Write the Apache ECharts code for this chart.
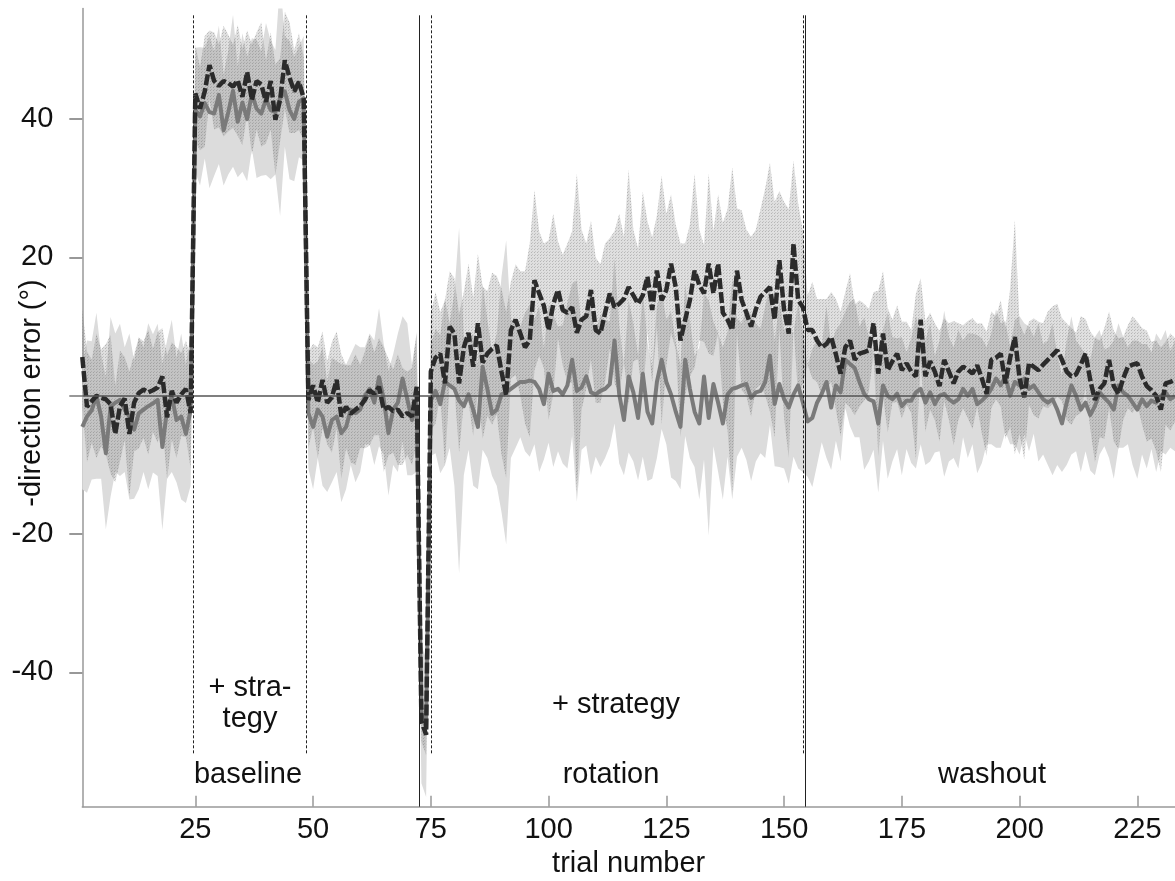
<!DOCTYPE html>
<html><head><meta charset="utf-8">
<script src="https://cdn.jsdelivr.net/npm/echarts@6/dist/echarts.min.js"></script>
<style>html,body{margin:0;padding:0;background:#fff}#c{width:1175px;height:881px}</style>
</head><body><div id="c"></div>
<script>
// ---- data ----
const xTicks = [25, 50, 75, 100, 125, 150, 175, 200, 225];
const yTicks = [-40, -20, 0, 20, 40];
const yLabels = [-40, -20, 20, 40];
const phaseSolid = [72.5, 154.4];
const phaseDashed = [24.5, 48.5, 75, 154.1];

// dashed (dark) group mean, trials 1..233
const dashMean = [
 5.6,-1.6,-0.8,0.0,-0.3,-0.5,-1.2,-5.5,-1.5,-0.4,-5.5,-1.0,0.4,0.9,0.5,0.8,1.2,2.8,-3.1,0.7,-1.0,0.2,1.0,-2.5,
 43.7,41.5,44.0,47.8,45.5,44.8,45.5,45.2,44.7,45.6,43.2,46.8,42.8,45.5,45.0,42.5,45.5,39.9,42.8,48.5,46.0,44.0,45.4,43.0,
 -0.6,1.5,-1.0,2.3,-1.0,-0.2,2.3,-3.0,-1.6,-2.6,-2.0,-1.5,-0.6,0.8,0.3,1.3,-2.0,-1.6,-2.2,-2.0,-3.0,-2.5,-3.0,1.3,
 -47.0,-49.0,
 3.5,5.5,6.1,1.8,10.0,9.0,1.8,7.0,9.1,4.2,
 10.5,4.8,6.1,6.8,7.3,3.5,0.1,9.5,11.0,9.0,
 7.0,8.0,16.7,14.8,13.0,9.5,13.3,15.3,12.4,12.0,
 12.8,9.1,11.0,11.5,15.3,9.5,9.0,12.0,14.8,12.8,
 13.3,14.0,15.7,14.5,13.3,14.5,17.2,12.4,18.1,13.8,
 15.3,19.1,15.7,8.0,11.0,13.8,18.1,16.0,14.8,19.1,
 14.8,19.1,12.0,11.0,9.5,18.1,13.8,12.0,10.0,12.5,
 14.3,15.0,15.7,11.0,19.6,12.4,9.0,22.0,13.8,12.8,
 9.5,9.5,8.0,7.0,7.5,8.5,6.0,3.2,7.0,8.0,
 5.2,6.1,6.3,6.6,10.5,3.2,9.0,3.7,5.0,6.1,
 3.7,4.7,3.5,2.8,11.0,2.8,5.0,3.5,1.4,5.2,
 3.5,1.8,3.5,4.2,3.8,3.2,4.4,2.5,0.3,5.2,
 5.5,6.1,1.8,5.5,8.5,2.5,-0.2,4.7,4.2,3.7,
 4.5,5.2,5.9,6.6,5.2,3.5,2.8,3.1,4.5,6.1,
 2.3,-0.6,1.0,1.8,5.2,1.4,0.3,2.5,4.2,4.5,
 4.7,2.8,1.4,0.8,0.0,-2.0,1.8,2.0,2.3
];
// grey (solid) group mean, trials 1..233
const greyMean = [
 -4.5,-3.0,-2.1,0.0,-3.0,-8.3,-1.6,-1.0,-0.6,-2.0,-3.0,-4.9,-2.5,-2.0,-1.5,-1.1,-0.6,-7.4,-2.0,0.0,-3.5,-3.0,-5.5,-2.0,
 41.3,40.4,42.3,41.0,40.8,43.5,38.4,41.0,44.1,39.6,42.4,40.0,43.7,41.5,40.8,42.9,41.3,41.0,43.0,44.0,41.3,40.0,42.5,43.0,
 -2.5,-4.5,-2.0,-3.0,-5.9,-3.5,-3.0,-5.4,-4.5,-2.0,-2.5,-2.0,0.0,1.0,-1.0,2.7,-0.5,-5.4,-2.0,-1.0,2.5,-0.5,-3.5,-1.0,
 -46.0,-48.0,
 -0.7,0.7,-1.2,2.0,1.5,1.0,-0.7,-1.5,0.2,-2.0,
 -4.5,4.2,1.0,-2.6,-2.0,0.2,0.5,1.0,1.5,2.0,
 2.0,2.2,2.0,1.0,-1.2,3.2,0.7,1.0,0.2,1.5,
 5.2,0.7,1.2,2.8,0.5,0.2,0.7,1.0,1.7,8.0,
 0.2,-3.5,2.8,0.5,-3.2,3.2,-2.3,-4.0,2.0,5.2,
 2.0,0.2,-2.3,-4.5,5.2,1.0,-2.3,-4.0,2.8,-3.2,
 1.7,-1.0,-4.0,0.2,1.0,1.2,1.5,1.7,-0.3,0.5,
 0.7,2.0,5.8,-1.2,1.7,-0.5,-1.7,0.2,1.5,-1.0,
 -3.7,-3.2,-1.0,0.3,2.0,-1.7,1.5,0.5,5.2,4.6,
 4.0,2.0,0.3,-0.5,-0.8,-4.0,1.5,0.0,-0.5,0.3,
 -1.5,-0.7,-0.7,0.5,1.0,-1.0,0.5,-1.2,0.0,0.3,
 -0.5,-1.0,-0.5,1.0,0.0,1.0,-1.2,-0.7,0.0,1.0,
 2.5,1.5,2.8,0.0,2.0,1.5,2.5,1.0,1.5,0.5,
 -0.5,-1.0,-0.5,-2.0,-4.0,-1.0,1.5,0.0,-2.0,-1.0,
 -2.8,-1.5,0.5,-0.3,-1.0,-2.0,1.5,0.5,0.0,-1.0,
 -2.0,-0.5,-1.5,-0.7,-1.0,0.0,0.5,-0.5,0.0
];
// half-width of the dotted band around the dashed mean
const dashSD = [
 7,8,6,9,7,8,10,7,8,6,9,7,8,7,9,6,8,7,9,7,8,6,7,8,
 7,6,8,5,7,6,8,7,6,8,7,6,8,7,9,6,7,8,6,7,8,6,7,6,
 7,6,8,7,6,8,7,9,6,7,8,6,7,8,6,7,9,7,6,8,7,6,7,8,
 3,3,
 8.5,9.5,6,12,8,8,10,8,10,10,
 10,11,9,11,10,12,12,7,8,9,
 11,14,13,9,9,13,13,7,8,10,
 11,23,13,10.5,10,10.5,10,10,8,11,
 13,9,17,9.5,8,15,8,10.5,8,18,
 11,10,9,14,11,11,14,8,7,13,
 9,10,13,16,23.5,9,13,12,13,11.5,
 12.7,15,18,17,10,15.6,18,12,14,11,
 5,7,6,7,6.5,6.5,8,9,8,9.7,
 8,7.7,7,6,4.5,12,9,9,6,7,
 7,6,6,12,6,8,7,7,8,6,
 7,9,7,6,7,8,6,8,9,7,
 6,7.7,8,10,16.9,8,9,6,7,7,
 6,7,7,6.7,6,7,7,6,7,5,
 7,9,7,8,7,8,8,6,6,7,
 6,7,8,7,8,9,6,7,6
];
// half-width of the light band around the grey mean
const greySD = [
 9,11,10,12,9,11,13,10,11,9,12,10,11,9,12,10,11,12,10,11,9,12,10,11,
 9,10,8,11,9,10,8,9,11,8,10,9,8,10,9,11,10,9,17,8,10,9,8,9,
 8,9,7,10,8,9,8,10,9,8,10,9,7,8,9,10,8,9,8,10,9,11,8,10,
 10,10,
 8,9,10,12,9,14,25,10,8,11,
 9,12,10,9,11,17,22,10,9,8,
 10,11,9,12,8,10,11,9,10,12,
 11,16,9,10,12,9,11,10,9,12,
 10,8,11,10,9,12,10,8,11,10,
 9,12,10,9,11,10,8,11,12,17,
 9,10,11,9,16,10,9,11,12,10,
 9,11,10,9,12,10,11,9,12,10,
 8,10,9,7,11,9,8,10,7,9,
 10,8,11,9,7,10,8,12,9,8,
 10,7,9,11,8,9,10,7,8,12,
 9,8,10,7,9,8,10,9,7,8,
 10,9,8,7,9,10,8,9,7,10,
 8,9,11,8,7,9,10,8,9,7,
 8,10,9,7,8,10,9,8,7,9,
 10,8,9,7,10,8,9,7,8
];

// ---- build what the library needs ----
const pairs = (arr) => arr.map((v, i) => [i + 1, v]);

const pc = document.createElement('canvas');
pc.width = 3; pc.height = 3;
const g = pc.getContext('2d');
g.fillStyle = 'rgba(105,105,105,0.21)'; g.fillRect(0, 0, 3, 3);
g.fillStyle = 'rgba(80,80,80,0.28)'; g.fillRect(0, 0, 1, 1);
g.fillStyle = 'rgba(80,80,80,0.18)'; g.fillRect(1, 2, 1, 1);

function bandSeries(mean, sd, fill, z) {
  const lo = mean.map((v, i) => v - sd[i]);
  const hi = mean.map((v, i) => v + sd[i]);
  return {
    type: 'custom', silent: true, clip: true, z: z,
    data: lo.map((v, i) => [i + 1, v, hi[i]]),
    encode: {x: 0, y: [1, 2]},
    renderItem: function (params, api) {
      if (params.dataIndex !== 0) return null;
      const up = [], dn = [];
      for (let i = 0; i < lo.length; i++) {
        up.push(api.coord([i + 1, hi[i]]));
        dn.push(api.coord([i + 1, lo[i]]));
      }
      return {type: 'polygon', shape: {points: up.concat(dn.reverse())}, style: {fill: fill, stroke: null}};
    }
  };
}

const FONT = '"Liberation Sans", Arial, sans-serif';
const chart = echarts.init(document.getElementById('c'), null, {renderer: 'canvas'});
const vLine = (x, y0, y1, type) => [{coord: [x, y0], lineStyle: {type: type}}, {coord: [x, y1]}];
const txt = (s, x, y, extra) => Object.assign({type: 'text', x: x, y: y, z: 10,
  style: {text: s, font: '29px ' + FONT, fill: '#111', align: 'center', verticalAlign: 'middle'}}, extra || {});

chart.setOption({
  animation: false,
  backgroundColor: '#fff',
  grid: {left: 82.3, right: 0, top: 8.4, bottom: 74.3, containLabel: false, outerBoundsMode: 'none'},
  xAxis: {
    type: 'value', min: 1, max: 233,
    name: 'trial number', nameLocation: 'middle', nameGap: 43, nameMoveOverlap: false,
    nameTextStyle: {fontFamily: FONT, fontSize: 29, color: '#111'},
    axisLine: {onZero: false, lineStyle: {color: '#999', width: 1.5}},
    axisTick: {show: true, inside: true, length: 11, customValues: xTicks, lineStyle: {color: '#999', width: 1.5}},
    axisLabel: {customValues: xTicks, margin: 9, fontFamily: FONT, fontSize: 29, color: '#111'},
    splitLine: {show: false}
  },
  yAxis: {
    type: 'value', min: -59.4, max: 56,
    axisLine: {show: true, lineStyle: {color: '#999', width: 1.5}},
    axisTick: {show: true, length: 13, customValues: yTicks, lineStyle: {color: '#777', width: 1.5}},
    axisLabel: {customValues: yLabels, margin: 29, fontFamily: FONT, fontSize: 29, color: '#111'},
    splitLine: {show: false}
  },
  series: [
    bandSeries(greyMean, greySD, '#dcdcdc', 1),
    bandSeries(dashMean, dashSD, {image: pc, repeat: 'repeat'}, 2),
    {type: 'line', name: 'grey', data: pairs(greyMean), symbol: 'none', z: 3,
     lineStyle: {color: '#7a7a7a', width: 4, join: 'round'},
     markLine: {silent: true, symbol: 'none', label: {show: false},
       lineStyle: {color: '#555', width: 1.5, type: 'solid'},
       data: [{yAxis: 0}]}},
    {type: 'line', name: 'dashed', data: pairs(dashMean), symbol: 'none', z: 4,
     lineStyle: {color: '#2b2b2b', width: 4.5, type: [11, 3]},
     markLine: {silent: true, symbol: 'none', label: {show: false},
       lineStyle: {color: '#222', width: 1},
       data: phaseSolid.map(x => vLine(x, 55, -59.4, 'solid'))
         .concat(phaseDashed.map(x => vLine(x, 55, -51.7, [3, 2])))}}
  ],
  graphic: [
    txt('-direction error (°)', 32, 393, {rotation: Math.PI / 2}),
    txt('baseline', 248, 775),
    txt('rotation', 611, 775),
    txt('washout', 992, 775),
    txt('+ strategy', 616, 705),
    txt('+ stra-', 250, 688),
    txt('tegy', 250, 719)
  ]
});
</script>
</body></html>
